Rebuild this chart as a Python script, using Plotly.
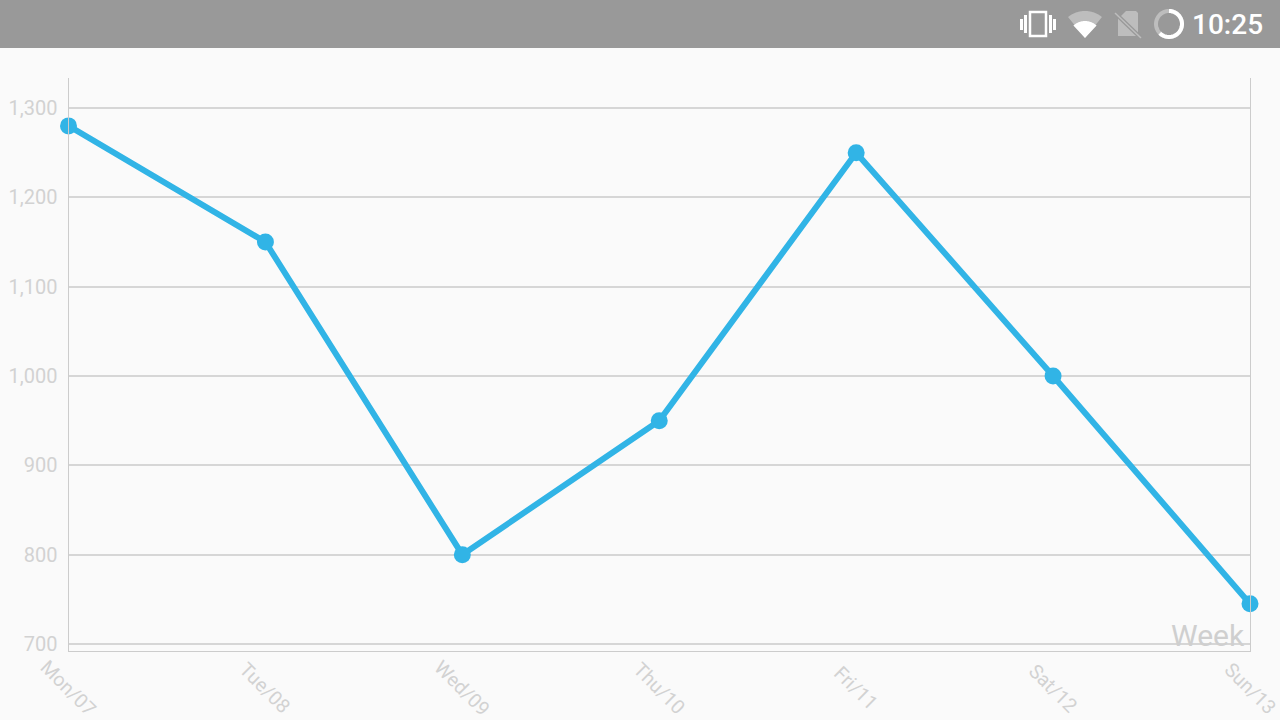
import math
import plotly.graph_objects as go

days = ["Mon/07", "Tue/08", "Wed/09", "Thu/10", "Fri/11", "Sat/12", "Sun/13"]
values = [1280, 1150, 800, 950, 1250, 1000, 745]
y_ticks = [700, 800, 900, 1000, 1100, 1200, 1300]
status_time = "10:25"
axis_title = "Week"

W, H = 1280, 720
FONT = "Roboto"
BLUE = "#31b4e6"
GRID = "#cccccc"
LABEL = "#d2d2d2"


def px(x):
    return x / W


def py(y):
    return 1 - y / H


def path(points, close=True):
    s = "M " + " L ".join(f"{px(x):.5f},{py(y):.5f}" for x, y in points)
    return s + (" Z" if close else "")


def arc(cx, cy, r, a0, a1, n=60):
    return [(cx + r * math.sin(math.radians(a0 + (a1 - a0) * i / n)),
             cy - r * math.cos(math.radians(a0 + (a1 - a0) * i / n))) for i in range(n + 1)]


def fill_shape(points, color):
    return dict(type="path", xref="paper", yref="paper", path=path(points),
                fillcolor=color, line=dict(width=0), layer="above")


def stroke_shape(points, color, width, close=False):
    return dict(type="path", xref="paper", yref="paper", path=path(points, close),
                line=dict(color=color, width=width), layer="above")


def rect(x0, y0, x1, y1, color):
    return fill_shape([(x0, y0), (x1, y0), (x1, y1), (x0, y1)], color)


WHITE = "#ffffff"
DIM = "#bdbdbd"
shapes = [
    rect(0, 0, W, 48, "#999999"),
    # vibrate icon
    dict(type="rect", xref="paper", yref="paper", x0=px(1030), x1=px(1046), y0=py(36), y1=py(12),
         line=dict(color=WHITE, width=2.5), layer="above"),
    rect(1020, 19, 1023, 30, WHITE), rect(1024, 15, 1027, 33, WHITE),
    rect(1049, 15, 1052, 33, WHITE), rect(1053, 19, 1056, 30, WHITE),
    # wifi icon
    fill_shape([(1085, 38)] + arc(1085, 38, 27, -39, 39), DIM),
    fill_shape([(1085, 38)] + arc(1085, 38, 17, -43, 43), WHITE),
    # SIM icon
    fill_shape([(1126, 11), (1136, 11), (1138, 13), (1138, 36), (1118, 36), (1118, 19)], DIM),
    stroke_shape([(1115, 13), (1141, 38)], "#999999", 4),
    stroke_shape([(1115, 13), (1141, 38)], DIM, 1.5),
    # battery ring
    stroke_shape(arc(1169, 24, 13, 0, 360), DIM, 4),
    stroke_shape(arc(1169, 24, 13, 0, 225), WHITE, 4),
]

annotations = [
    dict(text=status_time, xref="paper", yref="paper", x=px(1265), y=py(25), xanchor="right",
         yanchor="middle", showarrow=False, font=dict(family=FONT, size=28, color=WHITE, weight=500)),
    dict(text=axis_title, xref="paper", yref="paper", x=px(1247), y=py(635), xanchor="right",
         yanchor="middle", showarrow=False, font=dict(family=FONT, size=30, color="#cfcfcf")),
]
for d in days:
    annotations.append(dict(text=d, xref="x", yref="paper", x=d, y=py(688), xanchor="center",
                            yanchor="middle", textangle=45, showarrow=False,
                            font=dict(family=FONT, size=19.5, color=LABEL)))

fig = go.Figure(go.Scatter(
    x=days, y=values, mode="lines+markers", cliponaxis=False,
    line=dict(color=BLUE, width=6),
    marker=dict(color=BLUE, size=17, line=dict(width=0)),
    hoverinfo="skip", showlegend=False,
))
fig.update_layout(
    width=W, height=H, margin=dict(l=0, r=0, t=0, b=0, pad=0),
    paper_bgcolor="#fafafa", plot_bgcolor="#fafafa",
    shapes=shapes, annotations=annotations, showlegend=False,
    font=dict(family=FONT),
)
fig.update_xaxes(
    type="category", categoryorder="array", categoryarray=days, automargin=False,
    domain=[68.5 / W, 1250 / W], range=[0, 6], showticklabels=False, ticks="",
    showgrid=False, zeroline=False, showline=True, linecolor=GRID, linewidth=1, mirror=False,
)
fig.update_yaxes(
    automargin=False,
    domain=[(H - 651) / H, (H - 78) / H], range=[692.2, 1333.6],
    tickvals=y_ticks, tickformat=",", ticks="outside", ticklen=6, tickcolor="rgba(0,0,0,0)",
    tickfont=dict(family=FONT, size=20, color=LABEL),
    showgrid=True, gridcolor="#d6d6d6", gridwidth=1.5, zeroline=False,
    showline=True, linecolor=GRID, linewidth=1, mirror=True,
)
fig.write_html("out.html", config=dict(displayModeBar=False),
               post_script="document.body.style.margin='0';document.body.style.overflow='hidden';")
